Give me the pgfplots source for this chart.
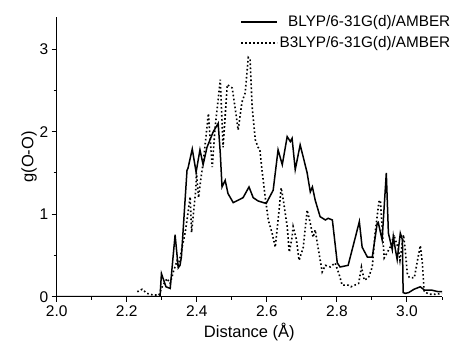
\documentclass[border=0pt]{standalone}
\usepackage{fontspec}
\setmainfont{Liberation Sans}
\usepackage{pgfplots}
\pgfplotsset{compat=1.18}
\pgfplotsset{longleg/.style={legend image code/.code={\draw[#1] (0pt,0pt) -- (36pt,0pt);}}}
\begin{document}
\begin{tikzpicture}[x=1pt,y=1pt]
\path[use as bounding box] (0,0) rectangle (461,352);
\begin{axis}[
  at={(56.7pt,55.3pt)}, anchor=south west,
  scale only axis, width=385.3pt, height=279.7pt,
  xmin=2.0, xmax=3.1, ymin=0, ymax=3.39,
  axis lines=left,
  axis line style={-, line width=1.1pt},
  tick align=outside,
  major tick length=5pt, minor tick length=3pt,
  tick style={line width=1pt, black},
  xtick={2.0,2.2,2.4,2.6,2.8,3.0},
  minor xtick={2.1,2.3,2.5,2.7,2.9,3.1},
  ytick={0,1,2,3},
  minor ytick={0.5,1.5,2.5},
  xticklabel style={/pgf/number format/.cd, fixed, fixed zerofill, precision=1},
  /pgf/number format/assume math mode=true,
  ticklabel style={font=\fontsize{15.5}{17}\selectfont},
  label style={font=\fontsize{16.5}{18}\selectfont},
  xlabel={Distance (Å)},
  ylabel={g(O-O)},
  ylabel shift=-4pt,
  longleg,
  legend style={draw=none, fill=none, at={(1,1)}, anchor=north east, xshift=9pt, yshift=2pt,
    inner sep=0pt, font=\fontsize{15.3}{17}\selectfont, row sep=7.5pt, column sep=1pt,
    nodes={inner sep=0.5pt}},
  legend cell align=right,
]
\addplot[black, line width=1.5pt] coordinates {
(2.000,0) (2.295,0) (2.299,0.28) (2.312,0.12) (2.324,0.10) (2.338,0.75) (2.347,0.35)
(2.352,0.38) (2.356,0.48) (2.372,1.53) (2.375,1.56) (2.387,1.79) (2.398,1.51)
(2.409,1.78) (2.418,1.60) (2.429,1.81) (2.447,2.00) (2.461,2.10) (2.467,1.74)
(2.472,1.33) (2.481,1.41) (2.489,1.25) (2.504,1.14) (2.518,1.17) (2.532,1.20)
(2.549,1.33) (2.561,1.20) (2.575,1.16) (2.598,1.13) (2.618,1.29) (2.632,1.78)
(2.644,1.60) (2.658,1.94) (2.667,1.88) (2.672,1.92) (2.681,1.54) (2.695,1.84)
(2.704,1.69) (2.715,1.50) (2.724,1.27) (2.730,1.33) (2.738,1.17) (2.752,0.97)
(2.767,0.93) (2.775,0.95) (2.787,0.93) (2.801,0.41) (2.809,0.36) (2.832,0.38)
(2.852,0.71) (2.864,0.91) (2.872,0.60) (2.887,0.48) (2.901,0.48) (2.915,0.89)
(2.918,0.90) (2.929,0.69) (2.941,1.50) (2.947,0.77) (2.958,0.57) (2.961,0.73)
(2.967,0.57) (2.972,0.45) (2.981,0.77) (2.987,0.69) (2.989,0.05) (2.995,0.04)
(3.005,0.05) (3.020,0.09) (3.038,0.12) (3.050,0.08) (3.070,0.08) (3.090,0.06) (3.100,0.06)
};
\addlegendentry{BLYP/6-31G(d)/AMBER}
\addplot[black, line width=1.6pt, dash pattern=on 1.6pt off 2.4pt] coordinates {
(2.230,0.06) (2.244,0.09) (2.258,0.04) (2.275,0.02) (2.292,0.02) (2.301,0.12)
(2.315,0.22) (2.324,0.16) (2.333,0.30) (2.344,0.44) (2.347,0.36) (2.358,0.60)
(2.367,0.78) (2.372,0.93) (2.381,1.21) (2.385,0.78) (2.397,1.29) (2.399,1.50)
(2.405,1.20) (2.411,1.41) (2.420,1.69) (2.433,2.22) (2.444,1.57) (2.452,2.04)
(2.467,2.63) (2.475,1.81) (2.487,2.57) (2.501,2.53) (2.509,2.30) (2.518,2.02)
(2.529,2.36) (2.538,2.47) (2.547,2.90) (2.552,2.88) (2.558,2.30) (2.567,1.90)
(2.575,1.81) (2.580,1.78) (2.586,1.54) (2.594,1.25) (2.604,0.93) (2.615,0.77)
(2.624,0.60) (2.632,0.93) (2.641,1.32) (2.647,1.17) (2.658,0.85) (2.664,0.54)
(2.672,0.72) (2.675,0.85) (2.684,0.70) (2.692,0.44) (2.704,0.60) (2.715,1.05)
(2.724,0.89) (2.732,0.72) (2.738,0.81) (2.744,0.65) (2.758,0.30) (2.767,0.38)
(2.781,0.36) (2.795,0.41) (2.807,0.26) (2.815,0.14) (2.832,0.14) (2.840,0.12)
(2.862,0.16) (2.870,0.36) (2.878,0.20) (2.890,0.23) (2.901,0.36) (2.909,0.77)
(2.920,1.15) (2.924,1.17) (2.929,0.85) (2.935,0.47) (2.943,0.53) (2.952,0.60)
(2.963,0.75) (2.966,0.70) (2.975,0.59) (2.980,0.44) (2.990,0.75) (2.995,0.57)
(3.001,0.28) (3.007,0.23) (3.021,0.23) (3.030,0.44) (3.038,0.62) (3.044,0.41)
(3.049,0.06) (3.064,0.03) (3.081,0.03) (3.100,0.04)
};
\addlegendentry{B3LYP/6-31G(d)/AMBER}
\end{axis}
\end{tikzpicture}
\end{document}
